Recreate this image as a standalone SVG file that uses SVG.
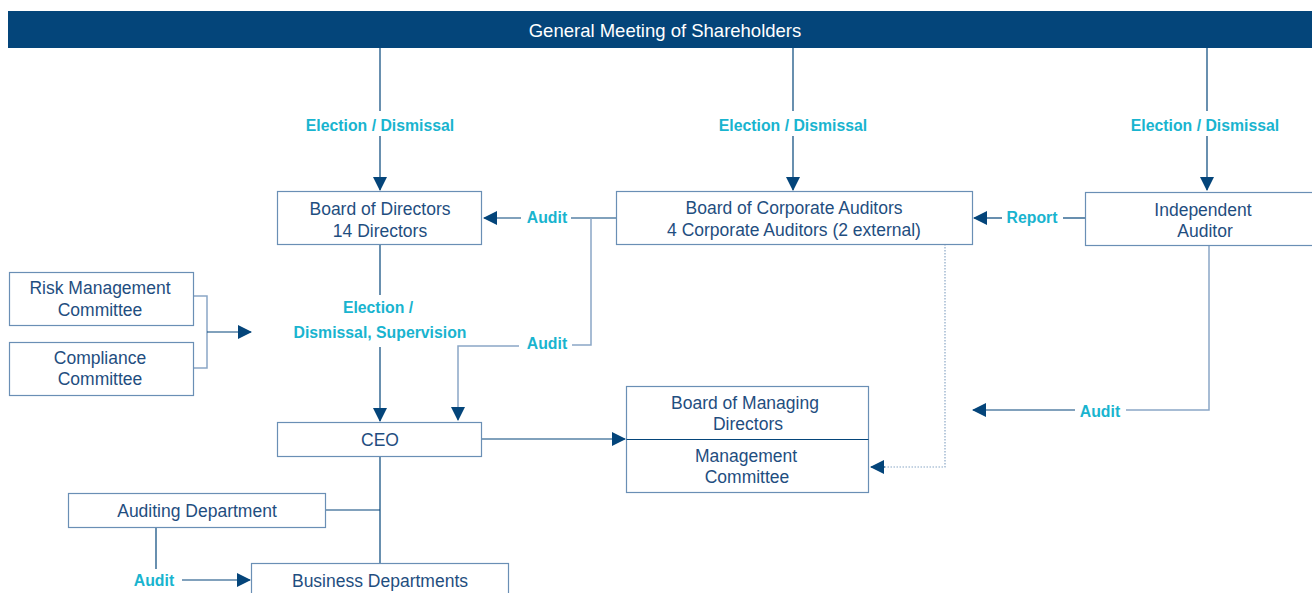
<svg xmlns="http://www.w3.org/2000/svg" width="1312" height="593" viewBox="0 0 1312 593">
<defs>
<style>
.box{fill:#fff;stroke:#6a8fb5;stroke-width:1.2}
.t{font-family:"Liberation Sans",Arial,sans-serif;font-size:17.5px;fill:#1f4e80;text-anchor:middle}
.lb{font-family:"Liberation Sans",Arial,sans-serif;font-size:15.8px;font-weight:bold;fill:#19b4cf;text-anchor:middle}
.ln{fill:none;stroke:#04457a;stroke-width:1.2}
.lt{fill:none;stroke:#8aa7c6;stroke-width:1.5}
.dt{fill:none;stroke:#8aa7c6;stroke-width:1.2;stroke-dasharray:1.5 1.5}
</style>
<marker id="ah" viewBox="0 0 14 14" refX="13" refY="7" markerWidth="14" markerHeight="14" markerUnits="userSpaceOnUse" orient="auto">
<path d="M0,0 L14,7 L0,14 Z" fill="#04457a"/>
</marker>
</defs>
<g id="header">
<rect x="8" y="11" width="1304" height="37" fill="#04457a"/>
<text x="665" y="37" class="t" style="fill:#fff;font-size:18.5px">General Meeting of Shareholders</text>
</g>
<g id="connectors">
<path class="ln" d="M380,48 V111"/>
<path class="ln" d="M380,136 V190" marker-end="url(#ah)"/>
<path class="ln" d="M793,48 V111"/>
<path class="ln" d="M793,136 V190" marker-end="url(#ah)"/>
<path class="ln" d="M1207,48 V111"/>
<path class="ln" d="M1207,136 V190" marker-end="url(#ah)"/>
<path class="ln" d="M616,218 H571"/>
<path class="ln" d="M521,218 H484" marker-end="url(#ah)"/>
<path class="lt" d="M591,218 V345 H572"/>
<path class="lt" d="M519,346 H458 V420" marker-end="url(#ah)"/>
<path class="ln" d="M1085,218 H1063"/>
<path class="ln" d="M1002,218 H974" marker-end="url(#ah)"/>
<path class="lt" d="M193,296 H207 V368 H193"/>
<path class="ln" d="M207,332 H251" marker-end="url(#ah)"/>
<path class="ln" d="M380,244 V295"/>
<path class="ln" d="M380,347 V421" marker-end="url(#ah)"/>
<path class="ln" d="M481,439 H625" marker-end="url(#ah)"/>
<path class="dt" d="M945,244 V467 H885"/>
<path class="ln" d="M885,467 H871" marker-end="url(#ah)"/>
<path class="lt" d="M1209,245 V410 H1126"/>
<path class="ln" d="M1075,410 H973" marker-end="url(#ah)"/>
<path class="ln" d="M380,456 V563"/>
<path class="ln" d="M325,510 H380"/>
<path class="ln" d="M156,527 V569"/>
<path class="ln" d="M182,580 H250" marker-end="url(#ah)"/>
</g>
<g id="labels">
<text x="380" y="131" class="lb">Election / Dismissal</text>
<text x="793" y="131" class="lb">Election / Dismissal</text>
<text x="1205" y="131" class="lb">Election / Dismissal</text>
<text x="547" y="223" class="lb">Audit</text>
<text x="547" y="349" class="lb">Audit</text>
<text x="1032" y="223" class="lb">Report</text>
<text x="1100" y="417" class="lb">Audit</text>
<text x="154" y="586" class="lb">Audit</text>
<text x="378" y="313" class="lb">Election /</text>
<text x="380" y="338" class="lb">Dismissal, Supervision</text>
</g>
<g id="board-of-directors">
<rect class="box" x="277.5" y="191.5" width="204" height="53"/>
<text x="380" y="215" class="t">Board of Directors</text>
<text x="380" y="237" class="t">14 Directors</text>
</g>
<g id="board-of-corporate-auditors">
<rect class="box" x="616.5" y="191.5" width="356" height="53"/>
<text x="794" y="214" class="t">Board of Corporate Auditors</text>
<text x="794" y="236" class="t">4 Corporate Auditors (2 external)</text>
</g>
<g id="independent-auditor">
<rect class="box" x="1085.5" y="192.5" width="230" height="53"/>
<text x="1203" y="216" class="t">Independent</text>
<text x="1205" y="237" class="t">Auditor</text>
</g>
<g id="risk-management-committee">
<rect class="box" x="9.5" y="272.5" width="184" height="53"/>
<text x="100" y="294" class="t">Risk Management</text>
<text x="100" y="316" class="t">Committee</text>
</g>
<g id="compliance-committee">
<rect class="box" x="9.5" y="342.5" width="184" height="53"/>
<text x="100" y="364" class="t">Compliance</text>
<text x="100" y="385" class="t">Committee</text>
</g>
<g id="ceo">
<rect class="box" x="277.5" y="422.5" width="204" height="34"/>
<text x="380" y="446" class="t">CEO</text>
</g>
<g id="board-of-managing-directors">
<rect class="box" x="626.5" y="386.5" width="242" height="106"/>
<path d="M626.5,439.5 H868.5" stroke="#04457a" stroke-width="1.2"/>
<text x="745" y="409" class="t">Board of Managing</text>
<text x="748" y="430" class="t">Directors</text>
<text x="746" y="462" class="t">Management</text>
<text x="747" y="483" class="t">Committee</text>
</g>
<g id="auditing-department">
<rect class="box" x="68.5" y="493.5" width="257" height="34"/>
<text x="197" y="517" class="t">Auditing Department</text>
</g>
<g id="business-departments">
<rect class="box" x="251.5" y="563.5" width="257" height="40"/>
<text x="380" y="587" class="t">Business Departments</text>
</g>
</svg>
